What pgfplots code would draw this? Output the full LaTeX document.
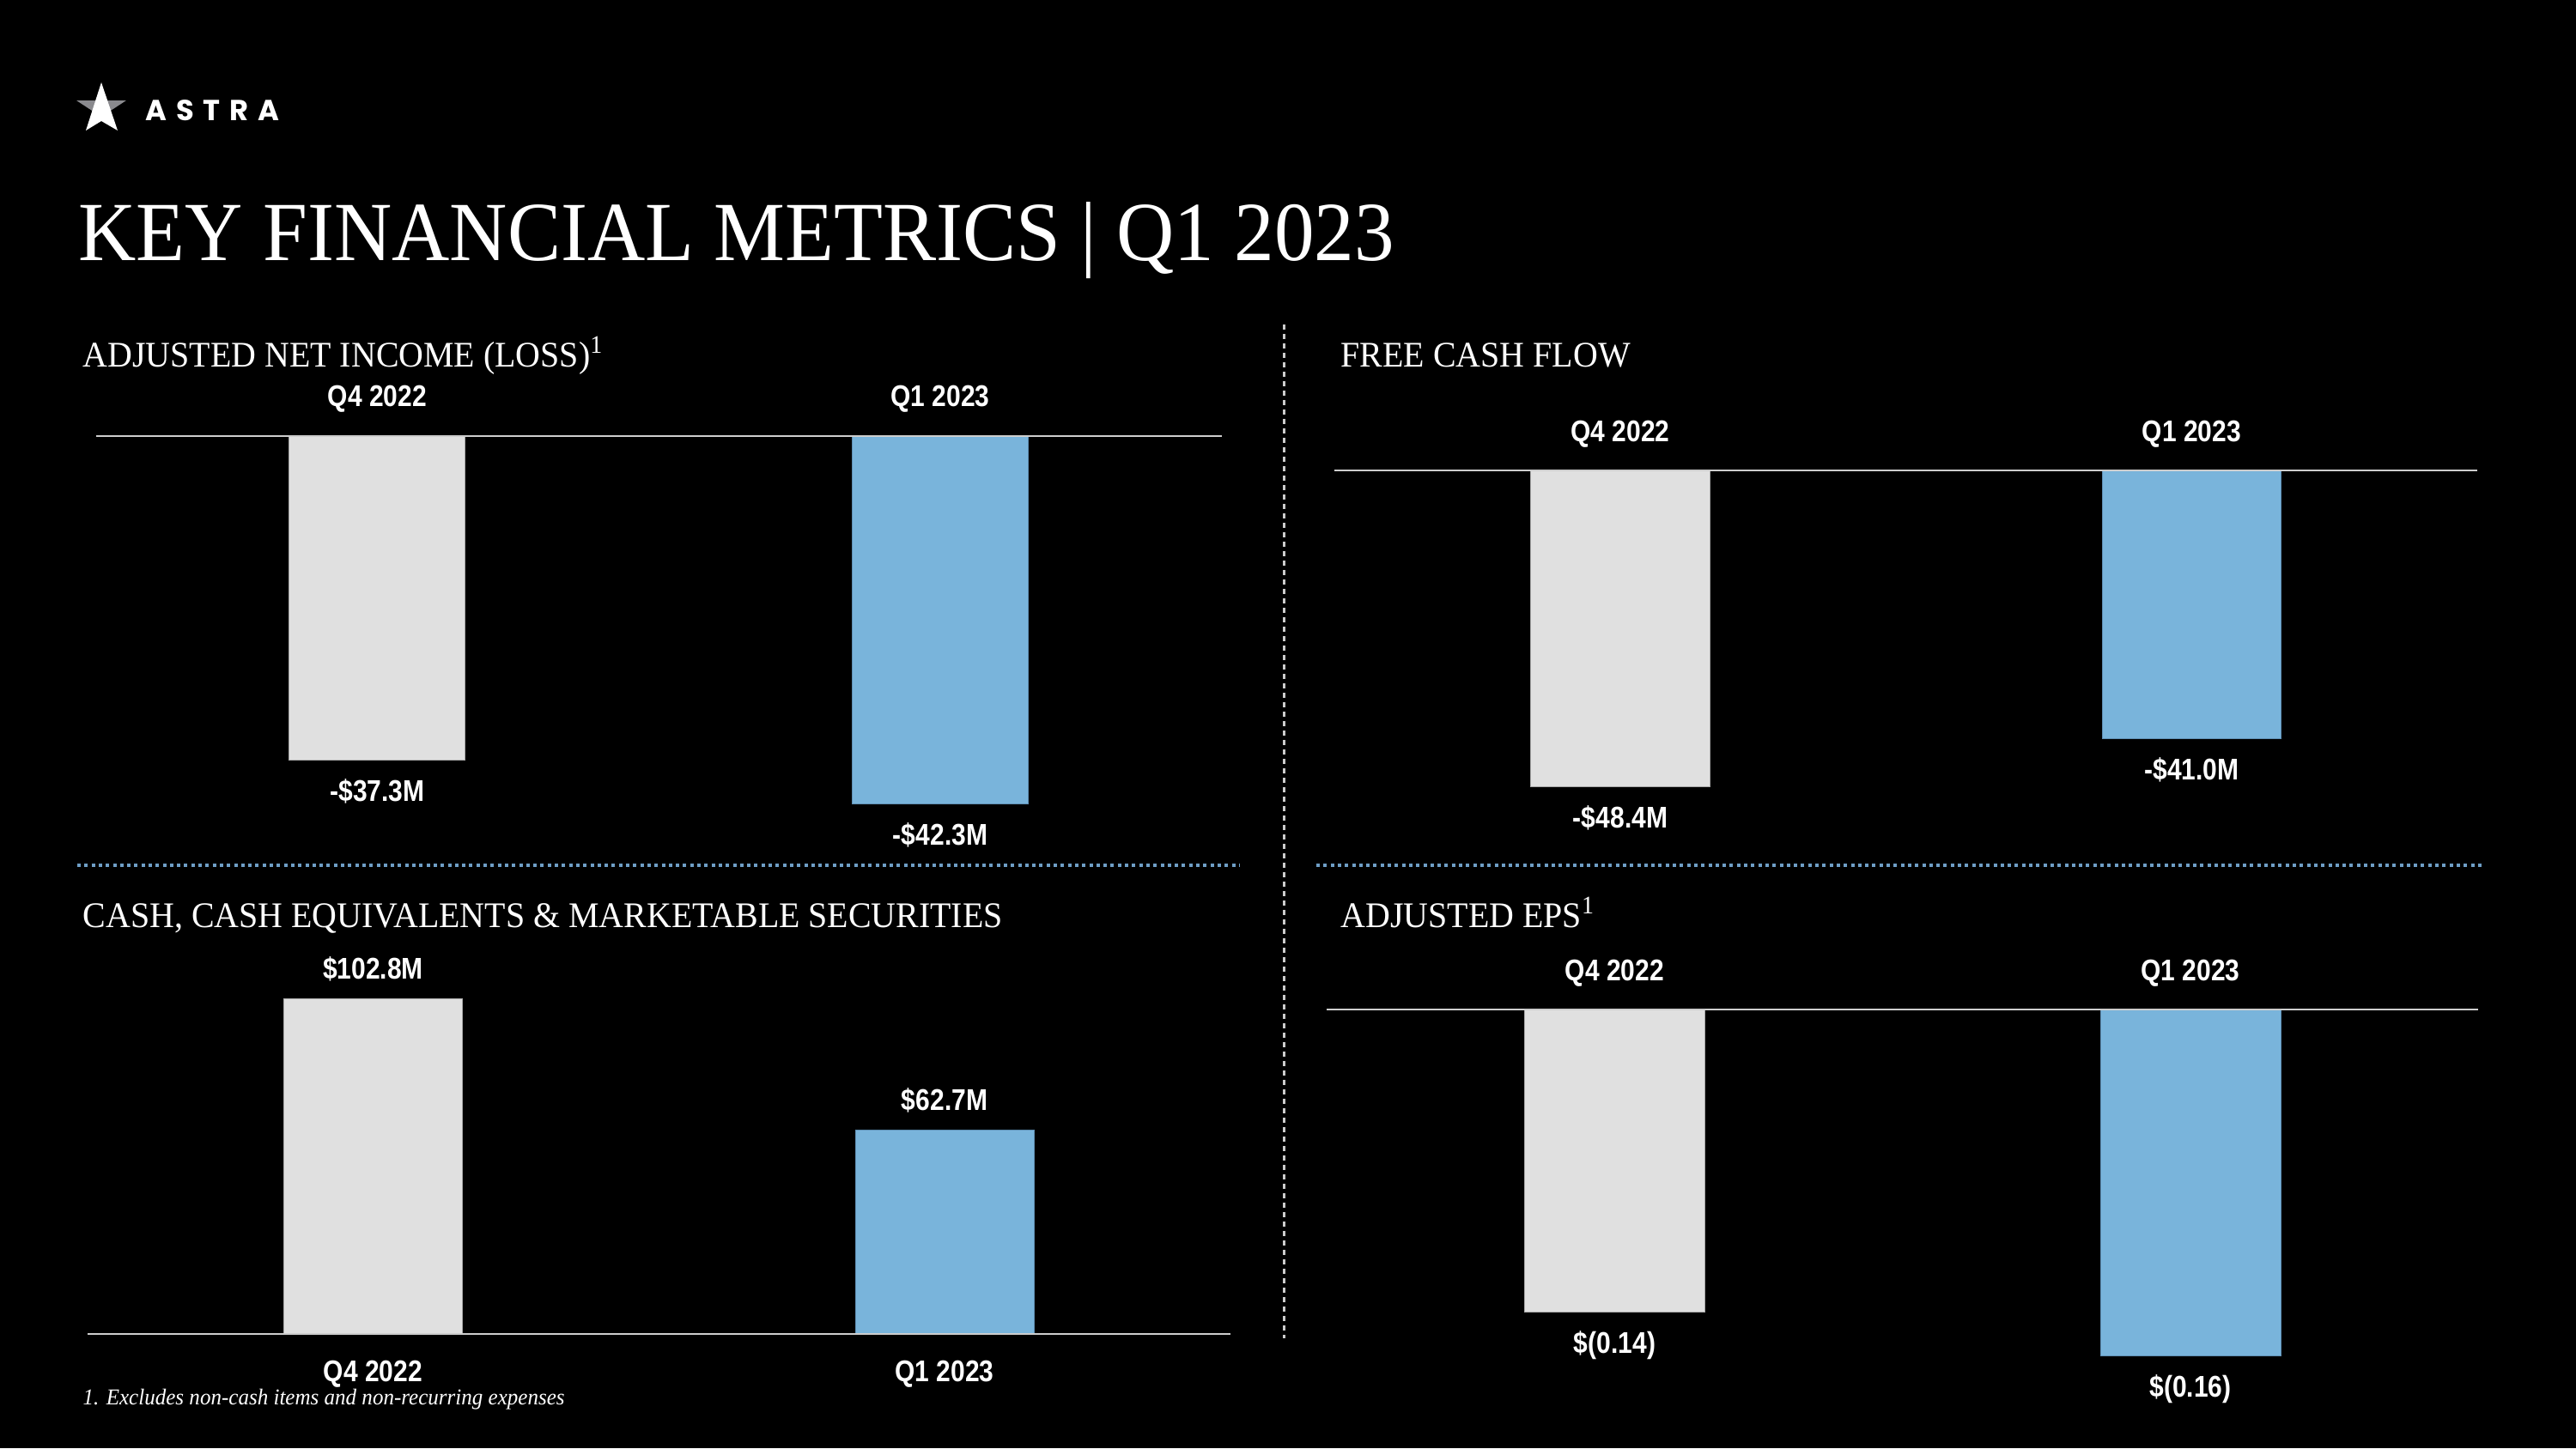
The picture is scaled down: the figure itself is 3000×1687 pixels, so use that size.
\documentclass[border=0pt]{standalone}
\usepackage{fontspec}
\usepackage{pgfplots}
\pgfplotsset{compat=1.18}
\setmainfont{Liberation Serif}
\newfontfamily\titlefont[FakeStretch=0.95]{Liberation Serif}
\newfontfamily\labelfont[FakeStretch=0.86]{Liberation Sans}
\newfontfamily\logofont[LetterSpace=32]{Poppins}
\definecolor{BarGray}{HTML}{E0E0E0}
\definecolor{BarGrayEdge}{HTML}{A8A8A8}
\definecolor{BarBlue}{HTML}{79B4DB}
\definecolor{BarBlueEdge}{HTML}{5F8FB4}
\definecolor{ZeroLine}{HTML}{CDCDCD}
\definecolor{DotBlue}{HTML}{6E9EC6}
\definecolor{WingGray}{HTML}{8A8A8E}
\newcommand{\lblfont}{\labelfont\bfseries\fontsize{9.93pt}{12pt}\selectfont}
\pgfplotsset{
  panel/.style={
    scale only axis,
    clip=false,
    ybar,
    xmin=-0.5, xmax=1.5,
    xtick={0,1},
    xticklabels={Q4 2022,Q1 2023},
    ytick=\empty,
    axis line style={draw=none},
    major tick length=0pt,
    xticklabel style={font=\lblfont, text=white, anchor=base, inner sep=0pt},
    nodes near coords,
    point meta=explicit symbolic,
  },
  negpanel/.style={
    panel,
    xticklabel pos=upper,
    xticklabel style={yshift=3.4mm},
    every node near coord/.append style={font=\lblfont, text=white, anchor=base, inner sep=0pt, yshift=-4.8mm},
  },
  pospanel/.style={
    panel,
    xticklabel pos=lower,
    xticklabel style={yshift=-5.55mm},
    every node near coord/.append style={font=\lblfont, text=white, anchor=base, inner sep=0pt, yshift=2.3mm},
  },
  graybar/.style={fill=BarGray, draw=BarGrayEdge, line width=0.1mm, bar shift=0pt},
  bluebar/.style={fill=BarBlue, draw=BarBlueEdge, line width=0.1mm, bar shift=0pt},
}
\begin{document}
\begin{tikzpicture}
\begin{scope}[x=0.1mm, y=-0.1mm]
  \fill[black] (0,0) rectangle (3000,1687);
  \useasboundingbox (0,0) rectangle (3000,1687);
\end{scope}

% adjusted net income (loss), $M
\begin{axis}[negpanel, anchor=north west, at={(1.1175cm,-5.08cm)},
  width=13.11cm, height=5.06cm, ymin=-50, ymax=0, bar width=2.05cm]
\addplot[graybar] coordinates {(0,-37.3) [-\$37.3M]};
\addplot[bluebar] coordinates {(1,-42.3) [-\$42.3M]};
\draw[ZeroLine, line width=0.25mm] (axis cs:-0.5,0) -- (axis cs:1.5,0);
\end{axis}

% free cash flow, $M
\begin{axis}[negpanel, anchor=north west, at={(15.5425cm,-5.48cm)},
  width=13.31cm, height=4.572cm, ymin=-60, ymax=0, bar width=2.085cm]
\addplot[graybar] coordinates {(0,-48.4) [-\$48.4M]};
\addplot[bluebar] coordinates {(1,-41.0) [-\$41.0M]};
\draw[ZeroLine, line width=0.25mm] (axis cs:-0.5,0) -- (axis cs:1.5,0);
\end{axis}

% cash, cash equivalents & marketable securities, $M
\begin{axis}[pospanel, anchor=south west, at={(1.0175cm,-15.54cm)},
  width=13.31cm, height=4.1745cm, ymin=0, ymax=110, bar width=2.08cm]
\addplot[graybar] coordinates {(0,102.8) [\$102.8M]};
\addplot[bluebar] coordinates {(1,62.7) [\$62.7M]};
\draw[ZeroLine, line width=0.25mm] (axis cs:-0.5,0) -- (axis cs:1.5,0);
\end{axis}

% adjusted EPS, $
\begin{axis}[negpanel, anchor=north west, at={(15.4525cm,-11.76cm)},
  width=13.41cm, height=4.536cm, ymin=-0.18, ymax=0, bar width=2.10cm]
\addplot[graybar] coordinates {(0,-0.14) [\$(0.14)]};
\addplot[bluebar] coordinates {(1,-0.16) [\$(0.16)]};
\draw[ZeroLine, line width=0.25mm] (axis cs:-0.5,0) -- (axis cs:1.5,0);
\end{axis}

\begin{scope}[x=0.1mm, y=-0.1mm]
  % logo
  \fill[WingGray] (89,117) -- (147,117) -- (118,136) -- cycle;
  \fill[white] (118,96) -- (137,152) -- (118,141) -- (100,152) -- cycle;
  \node[anchor=base west, inner sep=0, text=white] at (169,140)
    {\logofont\bfseries\fontsize{9.6pt}{10pt}\selectfont ASTRA};
  % titles
  \node[anchor=base west, inner sep=0, text=white] at (91,303)
    {\titlefont\fontsize{27.9pt}{30pt}\selectfont KEY FINANCIAL METRICS | Q1 2023};
  \node[anchor=base west, inner sep=0, text=white] at (96,427)
    {\titlefont\fontsize{11.95pt}{13pt}\selectfont ADJUSTED NET INCOME (LOSS)\textsuperscript{1}};
  \node[anchor=base west, inner sep=0, text=white] at (1561,427)
    {\titlefont\fontsize{11.95pt}{13pt}\selectfont FREE CASH FLOW};
  \node[anchor=base west, inner sep=0, text=white] at (96,1080)
    {\titlefont\fontsize{11.95pt}{13pt}\selectfont CASH, CASH EQUIVALENTS \& MARKETABLE SECURITIES};
  \node[anchor=base west, inner sep=0, text=white] at (1561,1080)
    {\titlefont\fontsize{11.95pt}{13pt}\selectfont ADJUSTED EPS\textsuperscript{1}};
  \node[anchor=base west, inner sep=0, text=white] at (96,1636)
    {\titlefont\itshape\fontsize{7.5pt}{8pt}\selectfont 1. Excludes non-cash items and non-recurring expenses};
  % separators
  \draw[DotBlue, line width=0.35mm, dash pattern=on 0.4mm off 0.43mm] (90,1008) -- (1444,1008);
  \draw[DotBlue, line width=0.35mm, dash pattern=on 0.4mm off 0.43mm] (1533,1008) -- (2890,1008);
  \draw[white!80!black, line width=0.3mm, dash pattern=on 0.6mm off 0.5mm] (1495,378) -- (1495,1559);
\end{scope}
\end{tikzpicture}
\end{document}
